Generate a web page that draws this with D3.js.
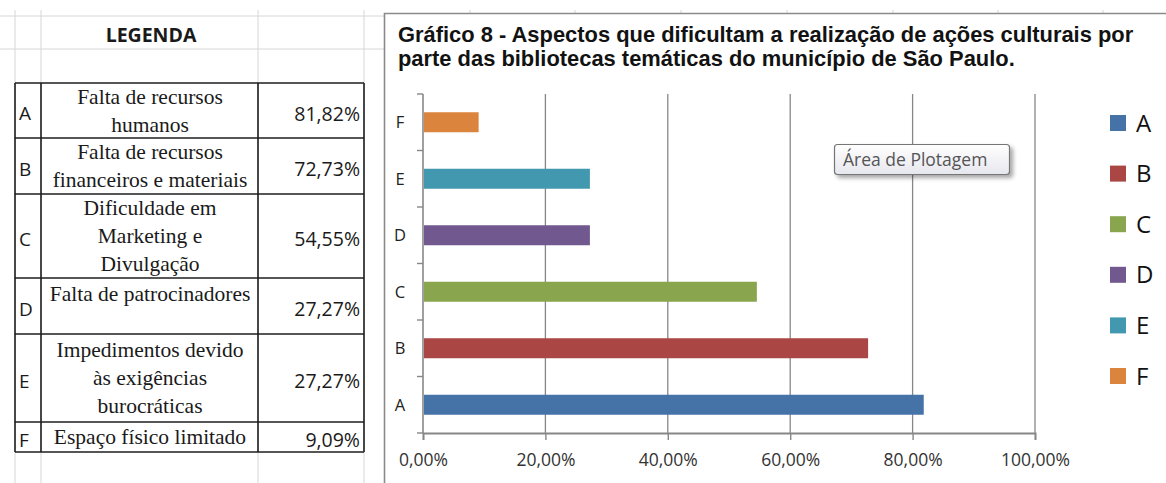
<!DOCTYPE html>
<html>
<head>
<meta charset="utf-8">
<script src="https://cdn.jsdelivr.net/npm/d3@7"></script>
<style>
  html, body { margin: 0; padding: 0; background: #fff; }
  svg { display: block; }
</style>
</head>
<body>
<div id="chart"></div>
<script>
// ---------- DATA ----------
const categories = ["A", "B", "C", "D", "E", "F"];
const values = [81.82, 72.73, 54.55, 27.27, 27.27, 9.09];
const descriptions = [
  ["Falta de recursos", "humanos"],
  ["Falta de recursos", "financeiros e materiais"],
  ["Dificuldade em", "Marketing e", "Divulgação"],
  ["Falta de patrocinadores"],
  ["Impedimentos devido", "às exigências", "burocráticas"],
  ["Espaço físico limitado"]
];
const xTicks = [0, 20, 40, 60, 80, 100];
const titleLines = [
  "Gráfico 8 - Aspectos que dificultam a realização de ações culturais por",
  "parte das bibliotecas temáticas do município de São Paulo."
];
const legendTitle = "LEGENDA";
const tooltipText = "Área de Plotagem";
const colors = ["#4572A7", "#AA4643", "#89A54E", "#71588F", "#4198AF", "#DB843D"];

// ---------- LAYOUT ----------
const W = 1166, H = 483;
const br = d3.formatLocale({ decimal: ",", thousands: ".", grouping: [3], currency: ["R$", ""] });
const fmt = v => br.format(".2f")(v) + "%";

const svg = d3.select("#chart").append("svg").attr("width", W).attr("height", H);
svg.append("rect").attr("width", W).attr("height", H).attr("fill", "#fff");

// spreadsheet gridlines (background)
const gridCol = "#d6d6d6";
const sheetCols = [15, 41, 258, 364];
sheetCols.forEach(x => svg.append("line").attr("x1", x).attr("x2", x).attr("y1", 10).attr("y2", H)
  .attr("stroke", gridCol).attr("stroke-width", 1));
[16, 49].forEach(y => svg.append("line").attr("x1", 0).attr("x2", 384).attr("y1", y).attr("y2", y)
  .attr("stroke", gridCol).attr("stroke-width", 1));
[470, 575, 681, 787, 893, 998, 1103].forEach(x => svg.append("line").attr("x1", x).attr("x2", x)
  .attr("y1", 10).attr("y2", 13).attr("stroke", gridCol));

// ---------- LEGEND TABLE ----------
const colX = [15, 41, 258, 364];
const rowY = [83, 138, 194, 278, 334, 422, 452];
const tbl = svg.append("g");
tbl.append("text").attr("x", 151).attr("y", 42).attr("text-anchor", "middle")
  .attr("font-family", "'Open Sans', sans-serif").attr("font-weight", "bold")
  .attr("font-size", 19.5).attr("fill", "#1a1a1a").text(legendTitle);

categories.forEach((c, i) => {
  const top = rowY[i], bot = rowY[i + 1], mid = (top + bot) / 2 + 3;
  tbl.append("text").attr("x", 19).attr("y", mid).attr("dy", "0.36em")
    .attr("font-family", "'Open Sans', sans-serif").attr("font-size", 19)
    .attr("fill", "#1a1a1a").text(c);
  tbl.append("text").attr("x", 360).attr("y", mid).attr("dy", "0.36em").attr("text-anchor", "end")
    .attr("font-family", "'Open Sans', sans-serif").attr("font-size", 19.5)
    .attr("fill", "#1a1a1a").text(fmt(values[i]));
  const lines = descriptions[i];
  const lh = 28;
  lines.forEach((ln, j) => {
    let cy;
    if (c === "D") cy = top + 17;
    else cy = (top + bot) / 2 + 1 + (j - (lines.length - 1) / 2) * lh;
    tbl.append("text").attr("x", 150).attr("y", cy).attr("dy", "0.3em").attr("text-anchor", "middle")
      .attr("font-family", "'Liberation Serif', 'Times New Roman', serif").attr("font-size", 21.5)
      .attr("fill", "#1a1a1a").text(ln);
  });
});
const tStroke = "#1e1e1e";
rowY.forEach(y => tbl.append("line").attr("x1", colX[0]).attr("x2", colX[3]).attr("y1", y).attr("y2", y)
  .attr("stroke", tStroke).attr("stroke-width", 1.6));
colX.forEach(x => tbl.append("line").attr("x1", x).attr("x2", x).attr("y1", rowY[0]).attr("y2", rowY[rowY.length - 1])
  .attr("stroke", tStroke).attr("stroke-width", 1.6));

// ---------- CHART FRAME ----------
svg.append("path").attr("d", `M384.5,${H} L384.5,13.5 L${W},13.5`)
  .attr("fill", "none").attr("stroke", "#8a8a8a").attr("stroke-width", 1.6);

// title
const title = svg.append("text").attr("font-family", "'Liberation Sans', Arial, sans-serif")
  .attr("font-weight", "bold").attr("font-size", 21.9).attr("fill", "#121212");
titleLines.forEach((t, i) => title.append("tspan").attr("x", 398).attr("y", 42 + i * 24).text(t));

// scales
const x = d3.scaleLinear().domain([0, 100]).range([423, 1035]);
const yDomain = categories.slice().reverse();
const y = d3.scaleBand().domain(yDomain).range([94, 433]).paddingInner(0.646).paddingOuter(0.323);
const axisCol = "#878787";

// gridlines
const plot = svg.append("g");
plot.selectAll("line.grid").data(xTicks.filter(t => t > 0)).join("line")
  .attr("x1", d => x(d)).attr("x2", d => x(d)).attr("y1", 94).attr("y2", 433)
  .attr("stroke", axisCol).attr("stroke-width", 1.3);

// x axis
const xAxis = d3.axisBottom(x).tickValues(xTicks).tickFormat(fmt).tickSize(7).tickPadding(14);
const gx = plot.append("g").attr("transform", "translate(0,433)").call(xAxis);
gx.select(".domain").attr("stroke", axisCol).attr("stroke-width", 1.8);
gx.selectAll(".tick line").attr("stroke", axisCol).attr("stroke-width", 1.4);
gx.selectAll(".tick text").attr("font-family", "'Open Sans', sans-serif").attr("font-size", 17.5)
  .attr("fill", "#333");

// y axis line + ticks at category boundaries
const step = y.step();
const bounds = d3.range(yDomain.length + 1).map(i => y.range()[0] + i * step);
plot.append("line").attr("x1", x(0)).attr("x2", x(0)).attr("y1", 94).attr("y2", 433)
  .attr("stroke", axisCol).attr("stroke-width", 1.6);
plot.selectAll("line.ytick").data(bounds).join("line")
  .attr("x1", x(0) - 6).attr("x2", x(0)).attr("y1", d => d).attr("y2", d => d)
  .attr("stroke", axisCol).attr("stroke-width", 1.4);
plot.selectAll("text.ylab").data(yDomain).join("text")
  .attr("x", 400).attr("y", d => y(d) + y.bandwidth() / 2).attr("dy", "0.36em")
  .attr("text-anchor", "middle").attr("font-family", "'Open Sans', sans-serif")
  .attr("font-size", 16.5).attr("fill", "#222").text(d => d);

// bars
plot.selectAll("rect.bar").data(categories).join("rect")
  .attr("x", x(0) + 1).attr("y", d => y(d))
  .attr("width", (d, i) => x(values[i]) - x(0) - 1)
  .attr("height", y.bandwidth())
  .attr("fill", (d, i) => colors[i]);

// legend
const lg = svg.append("g");
categories.forEach((c, i) => {
  const cy = 123 + i * 50.6;
  lg.append("rect").attr("x", 1110).attr("y", cy - 8).attr("width", 16).attr("height", 16).attr("fill", colors[i]);
  lg.append("text").attr("x", 1136).attr("y", cy).attr("dy", "0.36em")
    .attr("font-family", "'Open Sans', sans-serif").attr("font-size", 24).attr("fill", "#111").text(c);
});

// tooltip "Área de Plotagem"
const defs = svg.append("defs");
const grad = defs.append("linearGradient").attr("id", "tipGrad").attr("x1", 0).attr("x2", 0).attr("y1", 0).attr("y2", 1);
grad.append("stop").attr("offset", "0%").attr("stop-color", "#ffffff");
grad.append("stop").attr("offset", "100%").attr("stop-color", "#e6e6ee");
const flt = defs.append("filter").attr("id", "tipShadow").attr("x", "-10%").attr("y", "-30%").attr("width", "130%").attr("height", "180%");
flt.append("feDropShadow").attr("dx", 3).attr("dy", 3).attr("stdDeviation", 2).attr("flood-color", "#000").attr("flood-opacity", 0.35);
svg.append("rect").attr("x", 834.5).attr("y", 144.5).attr("width", 175).attr("height", 30).attr("rx", 3)
  .attr("fill", "url(#tipGrad)").attr("stroke", "#767676").attr("stroke-width", 1.2)
  .attr("filter", "url(#tipShadow)");
svg.append("text").attr("x", 843).attr("y", 166).attr("font-family", "'Open Sans', sans-serif")
  .attr("font-size", 17.5).attr("fill", "#555").text(tooltipText);
</script>
</body>
</html>
